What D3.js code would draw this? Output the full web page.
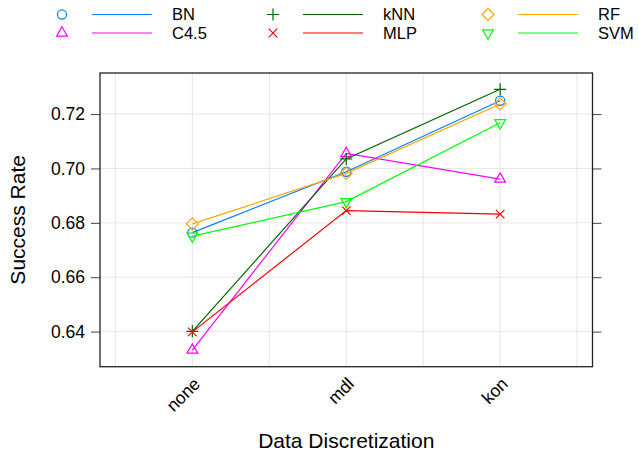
<!DOCTYPE html>
<html><head><meta charset="utf-8">
<script src="https://cdn.jsdelivr.net/npm/d3@7"></script>
<style>body{margin:0;background:#fff}svg{display:block;font-family:"Liberation Sans",Arial,Helvetica,sans-serif}</style>
</head><body><svg id="c" width="639" height="452"></svg>
<script>
const categories = ["none", "mdl", "kon"];
const seriesNames = ["BN", "C4.5", "kNN", "MLP", "RF", "SVM"];
const BN   = [0.6764, 0.6988, 0.7249];
const C45  = [0.6332, 0.7055, 0.6961];
const kNN  = [0.6401, 0.7035, 0.7291];
const MLP  = [0.6399, 0.6845, 0.6832];
const RF   = [0.6796, 0.6982, 0.7237];
const SVM  = [0.6751, 0.6878, 0.7168];
const yTicks = [0.64, 0.66, 0.68, 0.70, 0.72];
const colors = ["#0080ff", "#ff00ff", "#006400", "#ff0000", "#ffa500", "#00ff00"];
const shapes = ["circle", "triUp", "plus", "times", "diamond", "triDown"];

const series = [BN, C45, kNN, MLP, RF, SVM].map((v, i) => ({name: seriesNames[i], values: v, color: colors[i], shape: shapes[i]}));

const svg = d3.select("#c");
const L = 100, R = 592.5, T = 73, B = 366.7;
const x = d3.scaleLinear().domain([0.4, 3.6]).range([L, R]);
const y = d3.scaleLinear().domain([0.6271, 0.7351]).range([B, T]);

function shapePath(s) {
  const p = d3.path();
  if (s === "circle") { p.moveTo(4.6, 0); p.arc(0, 0, 4.6, 0, 2 * Math.PI); }
  else if (s === "triUp") { const r = 6.2; p.moveTo(0, -r); p.lineTo(r * 0.866, r * 0.5); p.lineTo(-r * 0.866, r * 0.5); p.closePath(); }
  else if (s === "triDown") { const r = 6.2; p.moveTo(0, r); p.lineTo(r * 0.866, -r * 0.5); p.lineTo(-r * 0.866, -r * 0.5); p.closePath(); }
  else if (s === "plus") { const r = 6; p.moveTo(-r, 0); p.lineTo(r, 0); p.moveTo(0, -r); p.lineTo(0, r); }
  else if (s === "times") { const r = 4.3; p.moveTo(-r, -r); p.lineTo(r, r); p.moveTo(-r, r); p.lineTo(r, -r); }
  else if (s === "diamond") { const r = 6; p.moveTo(0, -r); p.lineTo(r, 0); p.lineTo(0, r); p.lineTo(-r, 0); p.closePath(); }
  return p.toString();
}

// grid
const gx = d3.range(0.5, 3.51, 0.5);
svg.append("g").selectAll("line").data(gx).join("line")
  .attr("x1", d => x(d)).attr("x2", d => x(d)).attr("y1", T).attr("y2", B)
  .attr("stroke", "#e6e6e6").attr("stroke-width", 1);
svg.append("g").selectAll("line").data(yTicks).join("line")
  .attr("x1", L).attr("x2", R).attr("y1", d => y(d)).attr("y2", d => y(d))
  .attr("stroke", "#e6e6e6").attr("stroke-width", 1);

// axes
const yAxisL = d3.axisLeft(y).tickValues(yTicks).tickFormat(d3.format(".2f")).tickSize(9).tickPadding(6);
const gL = svg.append("g").attr("transform", `translate(${L},0)`).call(yAxisL);
gL.select(".domain").remove();
gL.selectAll("line").attr("stroke", "#444");
gL.selectAll("text").attr("font-size", 17.5).attr("fill", "#000").attr("font-family", "Liberation Sans, Arial, sans-serif");
const yAxisR = d3.axisRight(y).tickValues(yTicks).tickFormat("").tickSize(9);
const gR = svg.append("g").attr("transform", `translate(${R},0)`).call(yAxisR);
gR.select(".domain").remove();
gR.selectAll("line").attr("stroke", "#444");

// x tick labels
const xAxis = d3.axisBottom(x).tickValues([1, 2, 3]).tickFormat(d => categories[d - 1]).tickSize(0);
const gB = svg.append("g").attr("transform", `translate(0,${B})`).call(xAxis);
gB.select(".domain").remove();
gB.selectAll("text").attr("font-size", 17.5).attr("fill", "#000").attr("font-family", "Liberation Sans, Arial, sans-serif")
  .attr("text-anchor", "end").attr("dy", "0.35em").attr("y", 0)
  .attr("transform", "translate(4,14) rotate(-45)");

// box
svg.append("rect").attr("x", L).attr("y", T).attr("width", R - L).attr("height", B - T)
  .attr("fill", "none").attr("stroke", "#222").attr("stroke-width", 1.3);

// series
const line = d3.line().x((d, i) => x(i + 1)).y(d => y(d));
const gs = svg.append("g").selectAll("g").data(series).join("g");
gs.append("path").attr("d", d => line(d.values)).attr("fill", "none").attr("stroke", d => d.color).attr("stroke-width", 1.2);
gs.each(function (s) {
  d3.select(this).selectAll("path.pt").data(s.values).join("path").attr("class", "pt")
    .attr("transform", (v, i) => `translate(${x(i + 1)},${y(v)})`)
    .attr("d", shapePath(s.shape)).attr("fill", "none").attr("stroke", s.color).attr("stroke-width", 1.2);
});

// titles
svg.append("text").attr("x", (L + R) / 2).attr("y", 448).attr("text-anchor", "middle")
  .attr("font-size", 21).text("Data Discretization");
svg.append("text").attr("transform", `translate(25,${(T + B) / 2}) rotate(-90)`).attr("text-anchor", "middle")
  .attr("font-size", 21).text("Success Rate");

// legend (column-major, 3 columns x 2 rows)
const colX = [62, 273, 488];
const rowY = [14.5, 33];
const lg = svg.append("g").selectAll("g").data(series).join("g")
  .attr("transform", (d, i) => `translate(${colX[Math.floor(i / 2)]},${rowY[i % 2]})`);
lg.append("path").attr("d", d => shapePath(d.shape)).attr("fill", "none").attr("stroke", d => d.color).attr("stroke-width", 1.2);
lg.append("line").attr("x1", 30).attr("x2", 90).attr("y1", 0).attr("y2", 0).attr("stroke", d => d.color).attr("stroke-width", 1.2);
lg.append("text").attr("x", 110).attr("y", 0).attr("dy", "0.35em").attr("font-size", 16.5).text(d => d.name);
</script></body></html>
